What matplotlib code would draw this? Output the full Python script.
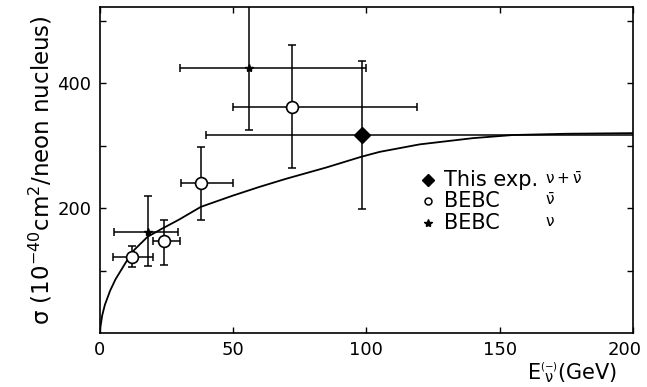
import numpy as np
import matplotlib.pyplot as plt
import matplotlib.transforms as mtransforms

plt.rcParams['mathtext.default'] = 'regular'

# BEBC anti-neutrino (open circles)
circ_x = [12, 24, 38, 72]
circ_y = [121, 147, 240, 362]
circ_xlo = [5, 20, 30.5, 50]
circ_xhi = [20, 30, 50, 119]
circ_ylo = [106, 109, 181, 264]
circ_yhi = [140, 181, 298, 461]

# BEBC neutrino (stars)
star_x = [18, 56]
star_y = [162, 424]
star_xlo = [5.5, 30]
star_xhi = [29.5, 100]
star_ylo = [107, 325]
star_yhi = [219, 560]

# this experiment (diamond)
dia_x = [98.5]
dia_y = [317]
dia_xlo = [40]
dia_xhi = [215]
dia_ylo = [198]
dia_yhi = [435]

# curve
curve_x = [0, 1, 2, 4, 6, 10, 13, 18, 23, 30, 38, 50, 60, 70, 85, 98, 105, 120, 140, 155, 175, 200]
curve_y = [0, 28, 45, 68, 86, 114, 133, 154, 166, 182, 202, 220, 234, 247, 265, 282, 290, 302, 312, 317, 319, 320]

def errs(v, lo, hi):
    v = np.array(v); return [v - np.array(lo), np.array(hi) - v]

fig = plt.figure(figsize=(6.47, 3.87), dpi=100)
ax = fig.add_axes([0.1538, 0.1395, 0.8246, 0.8425])

ax.plot(curve_x, curve_y, color='black', lw=1.3)

ekw = dict(fmt='none', ecolor='black', elinewidth=1.1, capsize=3, capthick=1.1)
ax.errorbar(circ_x, circ_y, xerr=errs(circ_x, circ_xlo, circ_xhi), yerr=errs(circ_y, circ_ylo, circ_yhi), **ekw)
ax.errorbar(star_x, star_y, xerr=errs(star_x, star_xlo, star_xhi), yerr=errs(star_y, star_ylo, star_yhi), **ekw)
ax.errorbar(dia_x, dia_y, xerr=errs(dia_x, dia_xlo, dia_xhi), yerr=errs(dia_y, dia_ylo, dia_yhi), **ekw)

ax.plot(circ_x, circ_y, 'o', ms=8.5, mfc='white', mec='black', mew=1.2, zorder=5)
ax.plot(star_x, star_y, '*', ms=6, color='black', zorder=5)
ax.plot(dia_x, dia_y, 'D', ms=8, color='black', zorder=5)

# legend drawn by hand
ax.plot([123], [245], 'D', ms=6.5, color='black')
ax.plot([123], [211], 'o', ms=5, mfc='white', mec='black', mew=1.1)
ax.plot([123], [176], '*', ms=6, color='black')
ax.text(129, 245, 'This exp.', fontsize=15, va='center')
ax.text(167, 247, r'$\nu+\bar{\nu}$', fontsize=11, va='center')
ax.text(129, 211, 'BEBC', fontsize=15, va='center')
ax.text(167, 213, r'$\bar{\nu}$', fontsize=11, va='center')
ax.text(129, 176, 'BEBC', fontsize=15, va='center')
ax.text(167, 178, r'$\nu$', fontsize=11, va='center')

ax.set_xlim(0, 200)
ax.set_ylim(0, 522)
ax.set_xticks([0, 50, 100, 150, 200])
ax.set_yticks([100, 200, 300, 400, 500])
ax.set_yticklabels(['', '200', '', '400', ''])
ax.tick_params(direction='in', length=4, width=1, top=True, right=True, labelsize=13, pad=6)
for s in ax.spines.values():
    s.set_linewidth(1.2)

# pull the last x label in a little, as in the original
last = ax.get_xticklabels()[-1]
last.set_transform(last.get_transform() + mtransforms.ScaledTranslation(-0.08, 0, fig.dpi_scale_trans))

ax.set_ylabel(r'$\sigma$ (10$^{-40}$cm$^2$/neon nucleus)', fontsize=16.5, labelpad=2)
fig.text(0.815, 0.02, r'E$_{\overset{(-)}{\nu}}$(GeV)', fontsize=15)

fig.savefig('out.png', dpi=100)
